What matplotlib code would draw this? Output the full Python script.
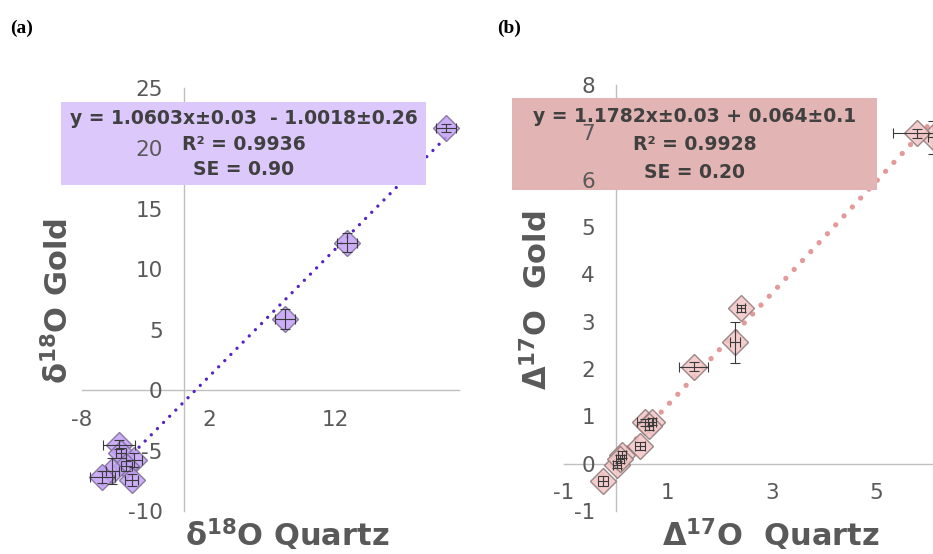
import numpy as np
import matplotlib.pyplot as plt
from matplotlib.patches import Rectangle

plt.rcParams["axes.unicode_minus"] = False

# (a) delta 18O, quartz vs gold
qz18 = [20.7, 12.9, 8.0, -5.1, -4.9, -3.9, -4.5, -5.6, -6.4, -4.1]
au18 = [21.7, 12.2, 5.9, -4.5, -5.2, -5.8, -6.3, -6.7, -7.2, -7.4]
qz18_err = [0.8, 0.8, 0.8, 1.25, 0.4, 0.6, 0.4, 0.5, 1.0, 0.5]
au18_err = [0.3, 0.8, 0.8, 0.4, 0.4, 0.6, 0.4, 1.1, 0.5, 0.5]
fit18 = (1.0603, -1.0018)
txt18 = ["y = 1.0603x±0.03  - 1.0018±0.26", "R² = 0.9936", "SE = 0.90"]

# (b) Delta 17O, quartz vs gold
qz17 = [6.1, 5.79, 2.40, 2.29, 1.50, 0.56, 0.69, 0.64, 0.46, 0.12, 0.02, 0.08, -0.25]
au17 = [6.9, 6.98, 3.28, 2.56, 2.05, 0.87, 0.89, 0.80, 0.37, 0.19, -0.02, 0.10, -0.37]
qz17_err = [0.1, 0.46, 0.08, 0.1, 0.28, 0.16, 0.08, 0.08, 0.1, 0.08, 0.08, 0.08, 0.1]
au17_err = [0.35, 0.1, 0.08, 0.44, 0.1, 0.08, 0.08, 0.08, 0.08, 0.08, 0.08, 0.08, 0.1]
fit17 = (1.1782, 0.064)
txt17 = ["y = 1.1782x±0.03 + 0.064±0.1", "R² = 0.9928", "SE = 0.20"]

GRIS = "#595959"
W, H = 933, 554

fig = plt.figure(figsize=(W / 100, H / 100), dpi=100)


def px(x0, y0, x1, y1):
    # pixel box (left, top, right, bottom) -> figure fraction rect
    return [x0 / W, 1 - y1 / H, (x1 - x0) / W, (y1 - y0) / H]


def panel(rect, xs, ys, xe, ye, fit, xlim, ylim, xticks, yticks,
          fill, edge, linea, lw, gap, caja, col_caja, textos, ty):
    ax = fig.add_axes(rect)
    ax.set_xlim(*xlim)
    ax.set_ylim(*ylim)
    for s in ["top", "right"]:
        ax.spines[s].set_visible(False)
    for s in ["left", "bottom"]:
        ax.spines[s].set_position(("data", 0))
        ax.spines[s].set_color("#bfbfbf")
        ax.spines[s].set_linewidth(1.0)
        ax.spines[s].set_zorder(1)
    ax.set_xticks(xticks)
    ax.set_yticks(yticks)
    ax.tick_params(length=0, labelsize=15.5, labelcolor=GRIS)
    ax.tick_params(axis="x", pad=14)
    ax.tick_params(axis="y", pad=15)
    ax.xaxis.set_zorder(4)
    ax.yaxis.set_zorder(4)

    # linea de tendencia sobre el rango de los datos
    m, b = fit
    xx = np.array([min(xs), max(xs)])
    ax.plot(xx, m * xx + b, color=linea, lw=lw, ls=(0, (0.01, gap)),
            dash_capstyle="round", zorder=2)

    ax.plot(xs, ys, ls="none", marker="D", ms=13, mfc=fill, mec=edge,
            mew=1.0, alpha=0.85, zorder=5)
    ax.errorbar(xs, ys, xerr=xe, yerr=ye, fmt="none", ecolor="#3a3a3a",
                elinewidth=0.8, capsize=3.5, capthick=0.8, zorder=6)

    x0, y0, x1, y1 = caja
    ax.add_patch(Rectangle((x0 / W, 1 - y1 / H), (x1 - x0) / W, (y1 - y0) / H,
                           transform=fig.transFigure, facecolor=col_caja,
                           edgecolor="none", zorder=3, clip_on=False))
    cx = (x0 + x1) / 2 / W
    for t, y in zip(textos, ty):
        fig.text(cx, 1 - y / H, t, ha="center", va="center", fontsize=13.5,
                 fontweight="bold", color="#404040", zorder=7)
    return ax


panel(px(82, 88, 459, 511), qz18, au18, qz18_err, au18_err, fit18,
      (-8, 21.7), (-10, 25), [-8, 2, 12], range(-10, 26, 5),
      "#c3a0f5", "#7a6a95", "#5624c4", 2.4, 2.6,
      (61, 102, 426, 185), "#dcc8fb", txt18, [118, 145, 170])

panel(px(564, 85, 933, 511), qz17, au17, qz17_err, au17_err, fit17,
      (-1, 6.1), (-1, 8), [-1, 1, 3, 5], range(-1, 9),
      "#f3c6c6", "#8a7777", "#e39a9a", 3.8, 2.3,
      (512, 98, 877, 190), "#e3b4b4", txt17, [117, 145, 173])

# etiquetas de ejes
lab = dict(fontsize=22, fontweight="bold", color=GRIS, ha="center", va="center")
fig.text(287 / W, 1 - 535 / H, "δ$^{\\mathbf{18}}$O Quartz", **lab)
fig.text(58 / W, 1 - 301 / H, "δ$^{\\mathbf{18}}$O Gold", rotation=90, **lab)
fig.text(771 / W, 1 - 535 / H, "Δ$^{\\mathbf{17}}$O  Quartz", **lab)
fig.text(537 / W, 1 - 300 / H, "Δ$^{\\mathbf{17}}$O  Gold", rotation=90, **lab)

pan = dict(fontsize=14, fontweight="bold", family="Liberation Serif", va="center")
fig.text(10 / W, 1 - 28 / H, "(a)", **pan)
fig.text(497 / W, 1 - 28 / H, "(b)", **pan)

fig.savefig("out.png", dpi=100)
